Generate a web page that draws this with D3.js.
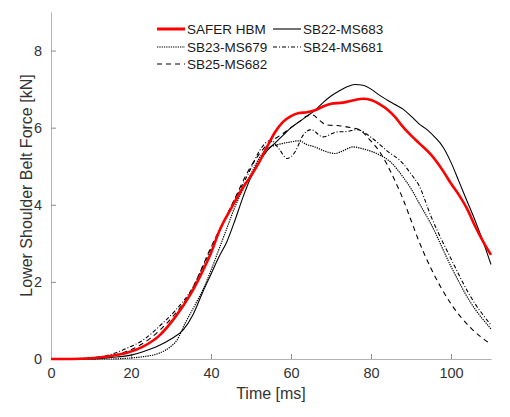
<!DOCTYPE html>
<html>
<head>
<meta charset="utf-8">
<script src="https://cdn.jsdelivr.net/npm/d3@7"></script>
<style>
  body { margin: 0; background: #fff; }
  .chart text { font-family: "Liberation Sans", Arial, sans-serif; }
</style>
</head>
<body>
<div class="chart"></div>
<script>
// values (time in ms, force in kN)
const saferT = [0, 5, 10, 15, 19, 23, 27, 31, 35, 38, 40, 42, 45, 48, 50, 52, 54, 56, 58, 60, 62, 64, 66, 68, 70, 73, 76, 78, 80, 82, 84, 86, 88, 90, 92, 95, 98, 100, 102, 104, 106, 108, 110];
const saferV = [0, 0, 0.02, 0.08, 0.16, 0.32, 0.6, 1.08, 1.7, 2.3, 2.75, 3.3, 3.9, 4.45, 4.75, 5.1, 5.5, 5.88, 6.15, 6.3, 6.38, 6.4, 6.45, 6.55, 6.62, 6.65, 6.72, 6.75, 6.72, 6.62, 6.48, 6.28, 6.02, 5.8, 5.6, 5.3, 4.88, 4.55, 4.25, 3.9, 3.45, 3.05, 2.7];

const sb22T = [0, 10, 15, 20, 23, 27, 30, 33, 35.5, 38, 40, 42, 44, 46, 48, 50, 52, 54, 56, 58, 60, 62, 64, 66, 68, 70, 72, 74, 76, 78, 80, 82, 84, 86, 88, 90, 92, 94, 96, 98, 100, 102, 104, 106, 108, 110];
const sb22V = [0, 0, 0.04, 0.1, 0.19, 0.35, 0.52, 0.75, 1.15, 1.75, 2.2, 2.65, 3.05, 3.6, 4.2, 4.72, 5.1, 5.4, 5.6, 5.8, 6.0, 6.15, 6.3, 6.45, 6.65, 6.82, 6.95, 7.06, 7.12, 7.1, 7.0, 6.85, 6.72, 6.6, 6.48, 6.3, 6.1, 5.95, 5.75, 5.5, 5.1, 4.6, 4.1, 3.6, 3.05, 2.45];

const sb23T = [0, 15, 19, 23, 27, 30, 31.5, 33.5, 36, 38, 40, 42, 44, 46, 48, 50, 52, 54, 57, 60, 62, 64, 66, 68, 71, 73, 75.5, 78, 82, 85, 88, 90, 92, 95, 100, 105, 110];
const sb23V = [0, 0, 0.02, 0.06, 0.15, 0.33, 0.49, 0.92, 1.4, 1.8, 2.3, 2.85, 3.4, 3.95, 4.4, 4.8, 5.2, 5.45, 5.57, 5.63, 5.66, 5.56, 5.5, 5.41, 5.33, 5.4, 5.5, 5.45, 5.3, 5.1, 4.72, 4.42, 4.05, 3.5, 2.4, 1.45, 0.78];

const sb24T = [0, 10, 15, 19, 23, 27, 31, 35.5, 37.5, 40, 45, 50, 52, 55, 57, 59, 61, 63, 65, 68, 71.5, 74, 76.5, 80, 84, 88, 90, 92, 95, 100, 105, 110];
const sb24V = [0, 0.03, 0.12, 0.28, 0.49, 0.84, 1.25, 1.87, 2.3, 2.85, 3.95, 4.95, 5.38, 5.67, 5.45, 5.2, 5.37, 5.8, 5.95, 5.76, 5.89, 5.9, 5.95, 5.75, 5.4, 5.07, 4.8, 4.5, 3.7, 2.6, 1.6, 0.88];

const sb25T = [0, 10, 15, 20, 25, 30, 35, 40, 45, 50, 54, 58, 60, 62, 64, 65.5, 67, 69, 72, 75, 77, 80, 82, 84, 86, 88, 90, 92, 95, 100, 105, 110];
const sb25V = [0, 0.02, 0.08, 0.24, 0.55, 1.05, 1.75, 2.9, 3.95, 5.0, 5.55, 5.85, 6.0, 6.15, 6.3, 6.33, 6.2, 6.07, 6.05, 6.0, 5.95, 5.65, 5.4, 5.05, 4.62, 4.15, 3.6, 3.05, 2.35, 1.43, 0.8, 0.38];

const xTicks = [0, 20, 40, 60, 80, 100];
const yTicks = [0, 2, 4, 6, 8];

const series = [
    { name: 'SAFER HBM', t: saferT, v: saferV, color: '#ff0000', width: 2.6, dash: null },
    { name: 'SB22-MS683', t: sb22T, v: sb22V, color: '#000', width: 1.1, dash: null },
    { name: 'SB23-MS679', t: sb23T, v: sb23V, color: '#000', width: 1.2, dash: '1.3,1' },
    { name: 'SB24-MS681', t: sb24T, v: sb24V, color: '#000', width: 1.1, dash: '4,2,1,2' },
    { name: 'SB25-MS682', t: sb25T, v: sb25V, color: '#000', width: 1.1, dash: '5,4' }
];

const margin = { top: 12, right: 19, bottom: 58, left: 51 };
const width = 510 - margin.left - margin.right;
const height = 417 - margin.top - margin.bottom;

const svg = d3.select('.chart')
    .append('svg')
    .attr('width', 510)
    .attr('height', 417)
    .append('g')
    .attr('transform', 'translate(' + margin.left + ',' + margin.top + ')');

const x = d3.scaleLinear().domain([0, 110]).range([0, width]);
const y = d3.scaleLinear().domain([0, 9]).range([height, 0]);

// axes, MATLAB style: ticks inside, no box
const xAxis = svg.append('g')
    .attr('transform', 'translate(0,' + height + ')')
    .call(d3.axisBottom(x).tickValues(xTicks).tickSizeInner(-5).tickSizeOuter(0).tickPadding(9));
const yAxis = svg.append('g')
    .call(d3.axisLeft(y).tickValues(yTicks).tickSizeInner(-5).tickSizeOuter(0).tickPadding(9));

[xAxis, yAxis].forEach(ax => {
    ax.select('.domain').attr('stroke', '#b3b3b3');
    ax.selectAll('.tick line').attr('stroke', '#8c8c8c');
    ax.selectAll('.tick text')
        .attr('fill', '#333')
        .style('font-size', '14.5px');
});
xAxis.selectAll('.tick text').attr('dy', '0.71em');

svg.append('text')
    .attr('x', width / 2)
    .attr('y', height + 40)
    .attr('text-anchor', 'middle')
    .attr('fill', '#333')
    .style('font-size', '16px')
    .text('Time [ms]');

svg.append('text')
    .attr('transform', 'translate(' + (-19) + ',' + (height / 2) + ')rotate(-90)')
    .attr('text-anchor', 'middle')
    .attr('fill', '#333')
    .style('font-size', '16px')
    .text('Lower Shoulder Belt Force [kN]');

const lineGen = d3.line()
    .x(d => x(d[0]))
    .y(d => y(d[1]))
    .curve(d3.curveMonotoneX);

const lineLayer = svg.append('g').attr('id', 'lineLayer');
// draw black curves first, red on top
series.slice(1).concat(series.slice(0, 1)).forEach(s => {
    lineLayer.append('path')
        .attr('d', lineGen(s.t.map((t, i) => [t, s.v[i]])))
        .attr('fill', 'none')
        .attr('stroke', s.color)
        .attr('stroke-width', s.width)
        .attr('stroke-dasharray', s.dash);
});

// legend, two columns
const legendPos = [[106, 17], [222, 17], [106, 35], [222, 35], [106, 52]];
const legend = svg.append('g').attr('class', 'legend');
series.forEach((s, i) => {
    const g = legend.append('g')
        .attr('transform', 'translate(' + legendPos[i][0] + ',' + legendPos[i][1] + ')');
    g.append('line')
        .attr('x1', 0).attr('x2', 28)
        .attr('stroke', s.color)
        .attr('stroke-width', s.width + (i === 0 ? 0.4 : 0))
        .attr('stroke-dasharray', s.dash);
    g.append('text')
        .attr('x', 30)
        .attr('dy', '0.35em')
        .attr('fill', '#1a1a1a')
        .style('font-size', '13.5px')
        .text(s.name);
});
</script>
</body>
</html>
